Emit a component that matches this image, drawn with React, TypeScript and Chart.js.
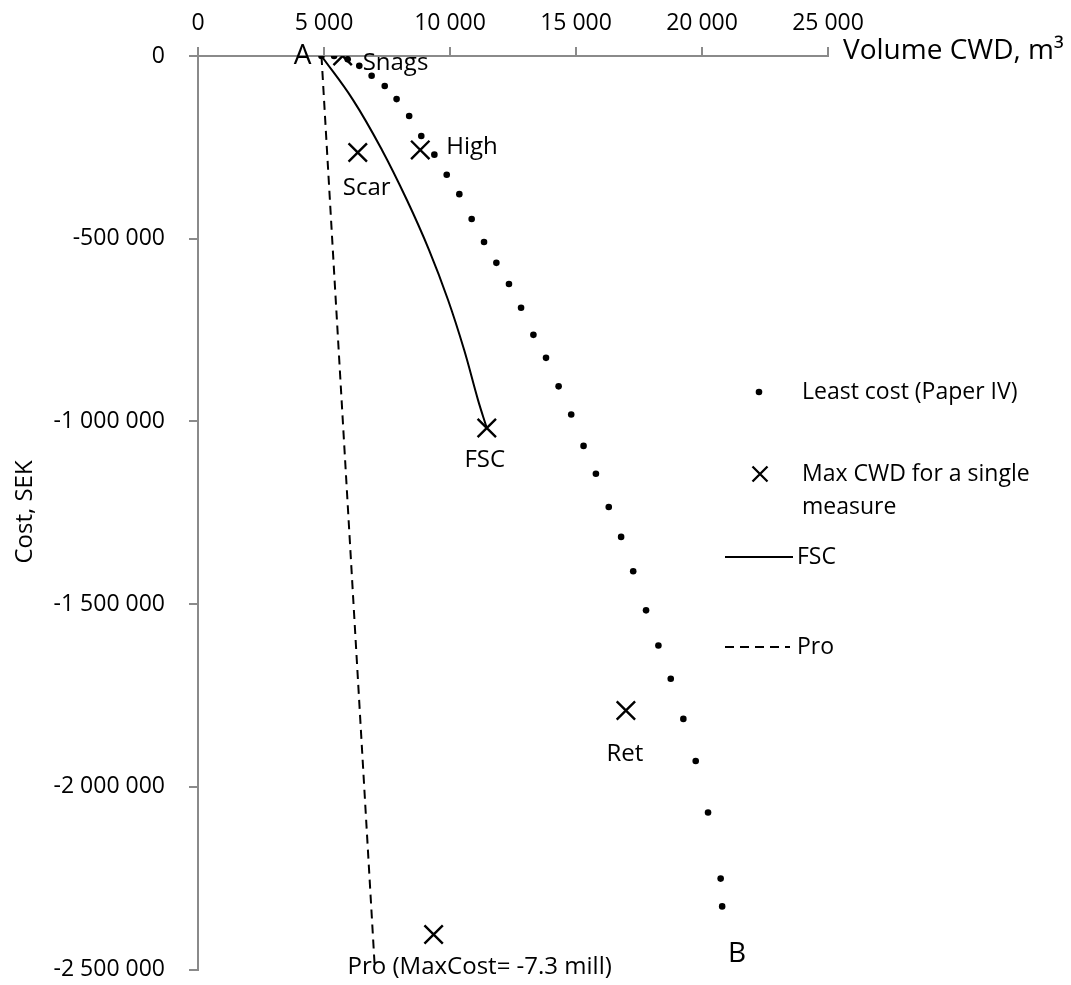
import React, { useEffect, useRef } from "react";
import { Chart, registerables } from "chart.js";

Chart.register(...registerables);

// ---- data ----
const xTickValues = [0, 5000, 10000, 15000, 20000, 25000];
const yTickValues = [0, -500000, -1000000, -1500000, -2000000, -2500000];

const seriesNames = ["Least cost (Paper IV)", "Max CWD for a single measure", "FSC", "Pro"];
const xTitle = "Volume CWD, m³";
const yTitle = "Cost, SEK";
const endLabels = ["A", "B"];

const leastCostVolume = [
  4900, 5400, 5940, 6400, 6890, 7410, 7880, 8380, 8860, 9380,
  9870, 10370, 10860, 11350, 11840, 12340, 12820, 13310, 13810, 14310,
  14810, 15300, 15790, 16300, 16790, 17270, 17780, 18270, 18760, 19260,
  19750, 20240, 20740, 20800,
];
const leastCostCost = [
  0, 0, -9000, -27000, -54000, -82000, -118000, -164000, -219000, -270000,
  -325000, -378000, -446000, -509000, -566000, -624000, -689000, -763000, -826000, -904000,
  -981000, -1067000, -1143000, -1234000, -1316000, -1410000, -1517000, -1613000, -1704000, -1814000,
  -1929000, -2070000, -2251000, -2327000,
];

const measureNames = ["Snags", "Scar", "High", "FSC", "Ret", "Pro (MaxCost= -7.3 mill)"];
const measureVolume = [5740, 6340, 8820, 11460, 16980, 9350];
const measureCost = [0, -264000, -257000, -1018000, -1791000, -2404000];

const fscVolume = [4900, 6150, 7300, 8290, 9170, 9920, 10560, 11110, 11460];
const fscCost = [0, -120000, -257000, -394000, -531000, -667000, -804000, -941000, -1018000];

const proVolume = [4900, 7020];
const proCost = [0, -2500000];

// ---- helpers ----
const FONT = "'Open Sans', sans-serif";
const AXIS = "#8a8a8a";
const fmt = (v: number) => {
  const s = Math.abs(v).toString().replace(/\B(?=(\d{3})+(?!\d))/g, " ");
  return v < 0 ? "-" + s : s;
};
const pts = (xs: number[], ys: number[]) => xs.map((x, i) => ({ x, y: ys[i] }));

function drawCross(ctx: CanvasRenderingContext2D, cx: number, cy: number, h: number, w: number) {
  ctx.save();
  ctx.strokeStyle = "#000";
  ctx.lineWidth = w;
  ctx.beginPath();
  ctx.moveTo(cx - h, cy - h);
  ctx.lineTo(cx + h, cy + h);
  ctx.moveTo(cx + h, cy - h);
  ctx.lineTo(cx - h, cy + h);
  ctx.stroke();
  ctx.restore();
}

const annotPlugin = {
  id: "annot",
  afterDraw(chart: any) {
    const { ctx } = chart;
    const x = chart.scales.x;
    const y = chart.scales.y;
    ctx.save();
    ctx.fillStyle = "#000";

    // measure labels
    const offs: [number, number, CanvasTextAlign][] = [
      [20, 14, "left"],
      [9, 43, "center"],
      [26, 4, "left"],
      [-2, 39, "center"],
      [-1, 50, "center"],
      [-86, 39, "left"],
    ];
    ctx.font = `24px ${FONT}`;
    ctx.textBaseline = "alphabetic";
    measureNames.forEach((n, i) => {
      const px = x.getPixelForValue(measureVolume[i]);
      const py = y.getPixelForValue(measureCost[i]);
      ctx.textAlign = offs[i][2];
      ctx.fillText(n, px + offs[i][0], py + offs[i][1]);
    });

    // A / B
    ctx.font = `28px ${FONT}`;
    ctx.textAlign = "center";
    const last = leastCostVolume.length - 1;
    ctx.fillText(endLabels[0], x.getPixelForValue(leastCostVolume[0]) - 19, y.getPixelForValue(leastCostCost[0]) + 8);
    ctx.fillText(endLabels[1], x.getPixelForValue(leastCostVolume[last]) + 15, y.getPixelForValue(leastCostCost[last]) + 56);

    // axis titles
    ctx.font = `28px ${FONT}`;
    ctx.textAlign = "left";
    ctx.fillText(xTitle, x.right + 15, x.bottom + 3);
    ctx.save();
    ctx.font = `24px ${FONT}`;
    ctx.translate(25, 512);
    ctx.rotate(-Math.PI / 2);
    ctx.textAlign = "center";
    ctx.textBaseline = "middle";
    ctx.fillText(yTitle, 0, 0);
    ctx.restore();

    // legend
    ctx.font = `23px ${FONT}`;
    ctx.textAlign = "left";
    ctx.textBaseline = "middle";
    ctx.beginPath();
    ctx.arc(759, 392, 3.3, 0, Math.PI * 2);
    ctx.fill();
    ctx.fillText(seriesNames[0], 802, 392);

    drawCross(ctx, 760, 474, 7.5, 2.3);
    const words = seriesNames[1].split(" ");
    ctx.fillText(words.slice(0, 5).join(" "), 802, 474);
    ctx.fillText(words.slice(5).join(" "), 802, 507);

    ctx.strokeStyle = "#000";
    ctx.lineWidth = 2;
    ctx.beginPath();
    ctx.moveTo(725, 557);
    ctx.lineTo(793, 557);
    ctx.stroke();
    ctx.fillText(seriesNames[2], 797, 557);

    ctx.setLineDash([9, 6]);
    ctx.beginPath();
    ctx.moveTo(725, 647);
    ctx.lineTo(790, 647);
    ctx.stroke();
    ctx.setLineDash([]);
    ctx.fillText(seriesNames[3], 797, 647);

    ctx.restore();
  },
};

export default function App() {
  const ref = useRef<HTMLCanvasElement | null>(null);

  useEffect(() => {
    if (!ref.current) return;
    const chart = new Chart(ref.current, {
      type: "scatter",
      data: {
        datasets: [
          {
            label: seriesNames[0],
            data: pts(leastCostVolume, leastCostCost),
            pointRadius: 3.3,
            pointBackgroundColor: "#000",
            pointBorderWidth: 0,
            showLine: false,
          },
          {
            label: seriesNames[1],
            data: pts(measureVolume, measureCost),
            pointStyle: "crossRot",
            pointRadius: 13,
            pointBorderColor: "#000",
            pointBorderWidth: 2.4,
            showLine: false,
          },
          {
            label: seriesNames[2],
            data: pts(fscVolume, fscCost),
            showLine: true,
            pointRadius: 0,
            borderColor: "#000",
            borderWidth: 2,
            tension: 0.4,
          },
          {
            label: seriesNames[3],
            data: pts(proVolume, proCost),
            showLine: true,
            pointRadius: 0,
            borderColor: "#000",
            borderWidth: 2,
            borderDash: [9, 6],
          },
        ],
      } as any,
      options: {
        responsive: false,
        animation: false,
        events: [],
        layout: { padding: { left: 0, top: 0, right: 243, bottom: 15 } },
        plugins: { legend: { display: false }, tooltip: { enabled: false } },
        scales: {
          x: {
            type: "linear",
            position: "top",
            min: 0,
            max: 25000,
            afterBuildTicks: (s: any) => {
              s.ticks = xTickValues.map((value) => ({ value }));
            },
            afterFit: (s: any) => {
              s.height = 56;
              s.paddingLeft = 0;
              s.paddingRight = 0;
            },
            ticks: {
              callback: (v: any) => fmt(Number(v)),
              font: { family: FONT, size: 23 },
              color: "#000",
              padding: 10,
              maxRotation: 0,
              autoSkip: false,
            },
            grid: { drawOnChartArea: false, drawTicks: true, tickLength: 9, color: AXIS, lineWidth: 2 },
            border: { display: true, color: AXIS, width: 2 },
          },
          y: {
            type: "linear",
            position: "left",
            min: -2500000,
            max: 0,
            afterBuildTicks: (s: any) => {
              s.ticks = yTickValues.map((value) => ({ value }));
            },
            afterFit: (s: any) => {
              s.width = 198;
              s.paddingTop = 0;
              s.paddingBottom = 0;
            },
            ticks: {
              callback: (v: any) => fmt(Number(v)),
              font: { family: FONT, size: 23 },
              color: "#000",
              padding: 24,
              autoSkip: false,
            },
            grid: { drawOnChartArea: false, drawTicks: true, tickLength: 9, color: AXIS, lineWidth: 2 },
            border: { display: true, color: AXIS, width: 2 },
          },
        },
      } as any,
      plugins: [annotPlugin],
    });
    return () => chart.destroy();
  }, []);

  return (
    <div style={{ position: "absolute", left: 0, top: 0, width: 1071, height: 985, background: "#fff" }}>
      <canvas ref={ref} width={1071} height={985} style={{ display: "block" }} />
    </div>
  );
}
